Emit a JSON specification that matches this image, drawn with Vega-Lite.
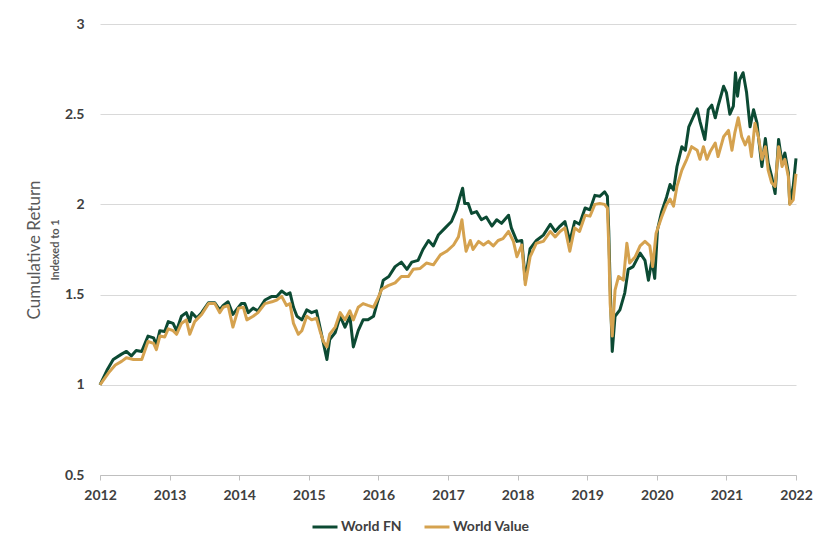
{
  "$schema": "https://vega.github.io/schema/vega-lite/v6.json",
  "width": 696,
  "height": 451,
  "autosize": {"type": "none"},
  "padding": {"left": 100, "top": 24, "right": 34, "bottom": 77},
  "background": "white",
  "config": {
    "view": {"stroke": null},
    "font": "Lato"
  },
  "datasets": {
    "fn": [
      {"t":2012.00,"v":1.00},{"t":2012.10,"v":1.08},{"t":2012.19,"v":1.14},{"t":2012.31,"v":1.17},{"t":2012.38,"v":1.185},{"t":2012.45,"v":1.16},{"t":2012.52,"v":1.19},{"t":2012.60,"v":1.185},{"t":2012.69,"v":1.27},{"t":2012.77,"v":1.26},{"t":2012.81,"v":1.22},{"t":2012.86,"v":1.30},{"t":2012.93,"v":1.295},{"t":2012.98,"v":1.35},{"t":2013.05,"v":1.34},{"t":2013.10,"v":1.30},{"t":2013.17,"v":1.38},{"t":2013.24,"v":1.40},{"t":2013.29,"v":1.35},{"t":2013.32,"v":1.40},{"t":2013.39,"v":1.37},{"t":2013.46,"v":1.40},{"t":2013.56,"v":1.455},{"t":2013.65,"v":1.455},{"t":2013.72,"v":1.415},{"t":2013.77,"v":1.44},{"t":2013.84,"v":1.46},{"t":2013.91,"v":1.39},{"t":2013.99,"v":1.43},{"t":2014.03,"v":1.45},{"t":2014.08,"v":1.45},{"t":2014.13,"v":1.40},{"t":2014.20,"v":1.425},{"t":2014.27,"v":1.41},{"t":2014.37,"v":1.47},{"t":2014.47,"v":1.49},{"t":2014.54,"v":1.49},{"t":2014.61,"v":1.52},{"t":2014.68,"v":1.50},{"t":2014.73,"v":1.51},{"t":2014.78,"v":1.43},{"t":2014.83,"v":1.38},{"t":2014.90,"v":1.36},{"t":2014.97,"v":1.415},{"t":2015.04,"v":1.40},{"t":2015.11,"v":1.41},{"t":2015.16,"v":1.32},{"t":2015.21,"v":1.23},{"t":2015.26,"v":1.14},{"t":2015.30,"v":1.25},{"t":2015.38,"v":1.29},{"t":2015.45,"v":1.38},{"t":2015.52,"v":1.32},{"t":2015.59,"v":1.38},{"t":2015.64,"v":1.21},{"t":2015.71,"v":1.30},{"t":2015.78,"v":1.36},{"t":2015.85,"v":1.36},{"t":2015.93,"v":1.38},{"t":2015.98,"v":1.45},{"t":2016.02,"v":1.50},{"t":2016.07,"v":1.58},{"t":2016.15,"v":1.60},{"t":2016.24,"v":1.655},{"t":2016.33,"v":1.68},{"t":2016.41,"v":1.64},{"t":2016.48,"v":1.68},{"t":2016.57,"v":1.69},{"t":2016.64,"v":1.75},{"t":2016.72,"v":1.80},{"t":2016.79,"v":1.77},{"t":2016.86,"v":1.83},{"t":2016.96,"v":1.87},{"t":2017.05,"v":1.905},{"t":2017.12,"v":1.97},{"t":2017.17,"v":2.04},{"t":2017.21,"v":2.09},{"t":2017.24,"v":2.005},{"t":2017.29,"v":2.005},{"t":2017.34,"v":1.95},{"t":2017.41,"v":1.96},{"t":2017.48,"v":1.915},{"t":2017.55,"v":1.93},{"t":2017.63,"v":1.88},{"t":2017.70,"v":1.915},{"t":2017.77,"v":1.895},{"t":2017.87,"v":1.94},{"t":2017.91,"v":1.87},{"t":2017.99,"v":1.795},{"t":2018.06,"v":1.80},{"t":2018.11,"v":1.58},{"t":2018.18,"v":1.755},{"t":2018.27,"v":1.80},{"t":2018.37,"v":1.83},{"t":2018.47,"v":1.89},{"t":2018.54,"v":1.85},{"t":2018.61,"v":1.88},{"t":2018.68,"v":1.905},{"t":2018.75,"v":1.795},{"t":2018.82,"v":1.905},{"t":2018.89,"v":1.89},{"t":2018.97,"v":1.98},{"t":2019.04,"v":1.97},{"t":2019.11,"v":2.05},{"t":2019.18,"v":2.045},{"t":2019.25,"v":2.07},{"t":2019.29,"v":2.045},{"t":2019.31,"v":1.85},{"t":2019.33,"v":1.545},{"t":2019.36,"v":1.185},{"t":2019.40,"v":1.38},{"t":2019.47,"v":1.415},{"t":2019.54,"v":1.51},{"t":2019.59,"v":1.64},{"t":2019.66,"v":1.655},{"t":2019.76,"v":1.73},{"t":2019.83,"v":1.69},{"t":2019.88,"v":1.58},{"t":2019.93,"v":1.69},{"t":2019.97,"v":1.59},{"t":2020.01,"v":1.86},{"t":2020.07,"v":1.96},{"t":2020.14,"v":2.04},{"t":2020.19,"v":2.11},{"t":2020.24,"v":2.08},{"t":2020.29,"v":2.21},{"t":2020.36,"v":2.32},{"t":2020.41,"v":2.30},{"t":2020.46,"v":2.43},{"t":2020.53,"v":2.49},{"t":2020.58,"v":2.53},{"t":2020.62,"v":2.46},{"t":2020.69,"v":2.36},{"t":2020.74,"v":2.525},{"t":2020.79,"v":2.55},{"t":2020.84,"v":2.48},{"t":2020.88,"v":2.545},{"t":2020.96,"v":2.655},{"t":2021.00,"v":2.62},{"t":2021.05,"v":2.50},{"t":2021.10,"v":2.545},{"t":2021.13,"v":2.73},{"t":2021.16,"v":2.60},{"t":2021.19,"v":2.69},{"t":2021.24,"v":2.73},{"t":2021.29,"v":2.62},{"t":2021.34,"v":2.43},{"t":2021.39,"v":2.525},{"t":2021.44,"v":2.45},{"t":2021.46,"v":2.375},{"t":2021.51,"v":2.21},{"t":2021.56,"v":2.365},{"t":2021.60,"v":2.23},{"t":2021.65,"v":2.155},{"t":2021.70,"v":2.06},{"t":2021.75,"v":2.36},{"t":2021.80,"v":2.23},{"t":2021.84,"v":2.285},{"t":2021.89,"v":2.175},{"t":2021.91,"v":2.005},{"t":2021.96,"v":2.10},{"t":2022.00,"v":2.255}
    ],
    "wv": [
      {"t":2012.00,"v":1.00},{"t":2012.12,"v":1.065},{"t":2012.22,"v":1.11},{"t":2012.31,"v":1.13},{"t":2012.38,"v":1.15},{"t":2012.48,"v":1.14},{"t":2012.60,"v":1.14},{"t":2012.69,"v":1.24},{"t":2012.77,"v":1.23},{"t":2012.81,"v":1.195},{"t":2012.86,"v":1.27},{"t":2012.93,"v":1.265},{"t":2012.98,"v":1.31},{"t":2013.05,"v":1.30},{"t":2013.10,"v":1.28},{"t":2013.17,"v":1.34},{"t":2013.24,"v":1.36},{"t":2013.29,"v":1.28},{"t":2013.36,"v":1.35},{"t":2013.46,"v":1.39},{"t":2013.56,"v":1.45},{"t":2013.65,"v":1.45},{"t":2013.72,"v":1.40},{"t":2013.77,"v":1.43},{"t":2013.84,"v":1.44},{"t":2013.91,"v":1.32},{"t":2013.99,"v":1.425},{"t":2014.06,"v":1.43},{"t":2014.11,"v":1.36},{"t":2014.20,"v":1.38},{"t":2014.27,"v":1.40},{"t":2014.37,"v":1.45},{"t":2014.47,"v":1.46},{"t":2014.54,"v":1.47},{"t":2014.61,"v":1.49},{"t":2014.68,"v":1.44},{"t":2014.73,"v":1.45},{"t":2014.78,"v":1.34},{"t":2014.85,"v":1.28},{"t":2014.90,"v":1.30},{"t":2014.97,"v":1.38},{"t":2015.04,"v":1.36},{"t":2015.11,"v":1.37},{"t":2015.16,"v":1.30},{"t":2015.21,"v":1.24},{"t":2015.26,"v":1.21},{"t":2015.30,"v":1.28},{"t":2015.38,"v":1.32},{"t":2015.45,"v":1.40},{"t":2015.52,"v":1.36},{"t":2015.59,"v":1.41},{"t":2015.64,"v":1.36},{"t":2015.71,"v":1.43},{"t":2015.78,"v":1.45},{"t":2015.85,"v":1.44},{"t":2015.93,"v":1.43},{"t":2015.98,"v":1.47},{"t":2016.05,"v":1.53},{"t":2016.14,"v":1.55},{"t":2016.24,"v":1.565},{"t":2016.33,"v":1.60},{"t":2016.43,"v":1.60},{"t":2016.50,"v":1.64},{"t":2016.60,"v":1.645},{"t":2016.69,"v":1.675},{"t":2016.79,"v":1.665},{"t":2016.89,"v":1.72},{"t":2016.98,"v":1.74},{"t":2017.08,"v":1.775},{"t":2017.15,"v":1.82},{"t":2017.20,"v":1.915},{"t":2017.23,"v":1.82},{"t":2017.26,"v":1.74},{"t":2017.32,"v":1.80},{"t":2017.36,"v":1.75},{"t":2017.44,"v":1.795},{"t":2017.51,"v":1.775},{"t":2017.58,"v":1.795},{"t":2017.65,"v":1.77},{"t":2017.72,"v":1.80},{"t":2017.79,"v":1.81},{"t":2017.87,"v":1.85},{"t":2017.94,"v":1.795},{"t":2017.99,"v":1.71},{"t":2018.06,"v":1.775},{"t":2018.11,"v":1.555},{"t":2018.18,"v":1.71},{"t":2018.27,"v":1.785},{"t":2018.37,"v":1.795},{"t":2018.47,"v":1.85},{"t":2018.54,"v":1.82},{"t":2018.61,"v":1.85},{"t":2018.68,"v":1.87},{"t":2018.75,"v":1.74},{"t":2018.82,"v":1.87},{"t":2018.89,"v":1.85},{"t":2018.97,"v":1.94},{"t":2019.04,"v":1.935},{"t":2019.11,"v":2.00},{"t":2019.18,"v":2.005},{"t":2019.25,"v":2.00},{"t":2019.29,"v":1.98},{"t":2019.31,"v":1.77},{"t":2019.33,"v":1.45},{"t":2019.36,"v":1.27},{"t":2019.40,"v":1.525},{"t":2019.45,"v":1.60},{"t":2019.52,"v":1.58},{"t":2019.57,"v":1.785},{"t":2019.61,"v":1.675},{"t":2019.69,"v":1.71},{"t":2019.76,"v":1.77},{"t":2019.83,"v":1.795},{"t":2019.90,"v":1.77},{"t":2019.94,"v":1.655},{"t":2019.99,"v":1.84},{"t":2020.07,"v":1.93},{"t":2020.14,"v":2.00},{"t":2020.19,"v":2.03},{"t":2020.24,"v":1.99},{"t":2020.29,"v":2.10},{"t":2020.36,"v":2.19},{"t":2020.43,"v":2.25},{"t":2020.50,"v":2.32},{"t":2020.58,"v":2.30},{"t":2020.62,"v":2.25},{"t":2020.67,"v":2.32},{"t":2020.72,"v":2.25},{"t":2020.77,"v":2.295},{"t":2020.84,"v":2.34},{"t":2020.88,"v":2.265},{"t":2020.96,"v":2.375},{"t":2021.03,"v":2.41},{"t":2021.08,"v":2.30},{"t":2021.12,"v":2.395},{"t":2021.17,"v":2.48},{"t":2021.22,"v":2.375},{"t":2021.27,"v":2.33},{"t":2021.32,"v":2.375},{"t":2021.36,"v":2.265},{"t":2021.41,"v":2.45},{"t":2021.46,"v":2.375},{"t":2021.51,"v":2.25},{"t":2021.56,"v":2.32},{"t":2021.60,"v":2.19},{"t":2021.65,"v":2.12},{"t":2021.70,"v":2.10},{"t":2021.75,"v":2.32},{"t":2021.80,"v":2.21},{"t":2021.84,"v":2.25},{"t":2021.89,"v":2.155},{"t":2021.91,"v":2.00},{"t":2021.96,"v":2.025},{"t":2022.00,"v":2.17}
    ]
  },
  "encoding": {
    "x": {
      "field": "t",
      "type": "quantitative",
      "scale": {"domain": [2012, 2022], "nice": false, "zero": false},
      "axis": {
        "title": null,
        "values": [2012, 2013, 2014, 2015, 2016, 2017, 2018, 2019, 2020, 2021, 2022],
        "format": "d",
        "grid": false,
        "labelFlush": false,
        "labelOverlap": false,
        "domainColor": "#bfbfbf",
        "domainWidth": 1,
        "tickColor": "#bfbfbf",
        "tickSize": 5,
        "labelFont": "Lato",
        "labelFontWeight": "bold",
        "labelFontSize": 14,
        "labelColor": "#404040",
        "labelPadding": 8
      }
    }
  },
  "layer": [
    {
      "data": {"name": "fn"},
      "mark": {"type": "line", "strokeWidth": 3, "strokeJoin": "round"},
      "encoding": {
        "y": {
          "field": "v",
          "type": "quantitative",
          "scale": {"domain": [0.5, 3], "nice": false, "zero": false},
          "axis": {
            "values": [0.5, 1, 1.5, 2, 2.5, 3],
            "format": "~g",
            "domain": false,
            "ticks": false,
            "tickSize": 0,
            "grid": true,
            "gridColor": "#d9d9d9",
            "gridWidth": 1,
            "labelFont": "Lato",
            "labelFontWeight": "bold",
            "labelFontSize": 14,
            "labelColor": "#404040",
            "labelPadding": 16,
            "title": "Indexed to 1",
            "titleFont": "Lato",
            "titleFontSize": 11,
            "titleFontWeight": "bold",
            "titleColor": "#595959",
            "titlePadding": 4
          }
        },
        "color": {
          "datum": "World FN",
          "type": "nominal",
          "scale": {"domain": ["World FN", "World Value"], "range": ["#0c4a33", "#d5a24f"]},
          "legend": {
            "title": null,
            "orient": "none",
            "legendX": 211,
            "legendY": 489,
            "direction": "horizontal",
            "symbolType": "stroke",
            "symbolSize": 625,
            "symbolStrokeWidth": 3,
            "labelFont": "Lato",
            "labelFontSize": 14,
            "labelFontWeight": "bold",
            "labelColor": "#404040",
            "labelOffset": 2,
            "columnPadding": 16
          }
        }
      }
    },
    {
      "data": {"name": "wv"},
      "mark": {"type": "line", "strokeWidth": 3, "strokeJoin": "round"},
      "encoding": {
        "y": {
          "field": "v",
          "type": "quantitative",
          "axis": {
            "orient": "left",
            "labels": false,
            "domain": false,
            "ticks": false,
            "grid": false,
            "title": "Cumulative Return",
            "titleFont": "Lato",
            "titleFontSize": 17,
            "titleFontWeight": "normal",
            "titleColor": "#595959",
            "titlePadding": 57
          }
        },
        "color": {"datum": "World Value", "type": "nominal"}
      }
    }
  ],
  "resolve": {"axis": {"y": "independent"}}
}
